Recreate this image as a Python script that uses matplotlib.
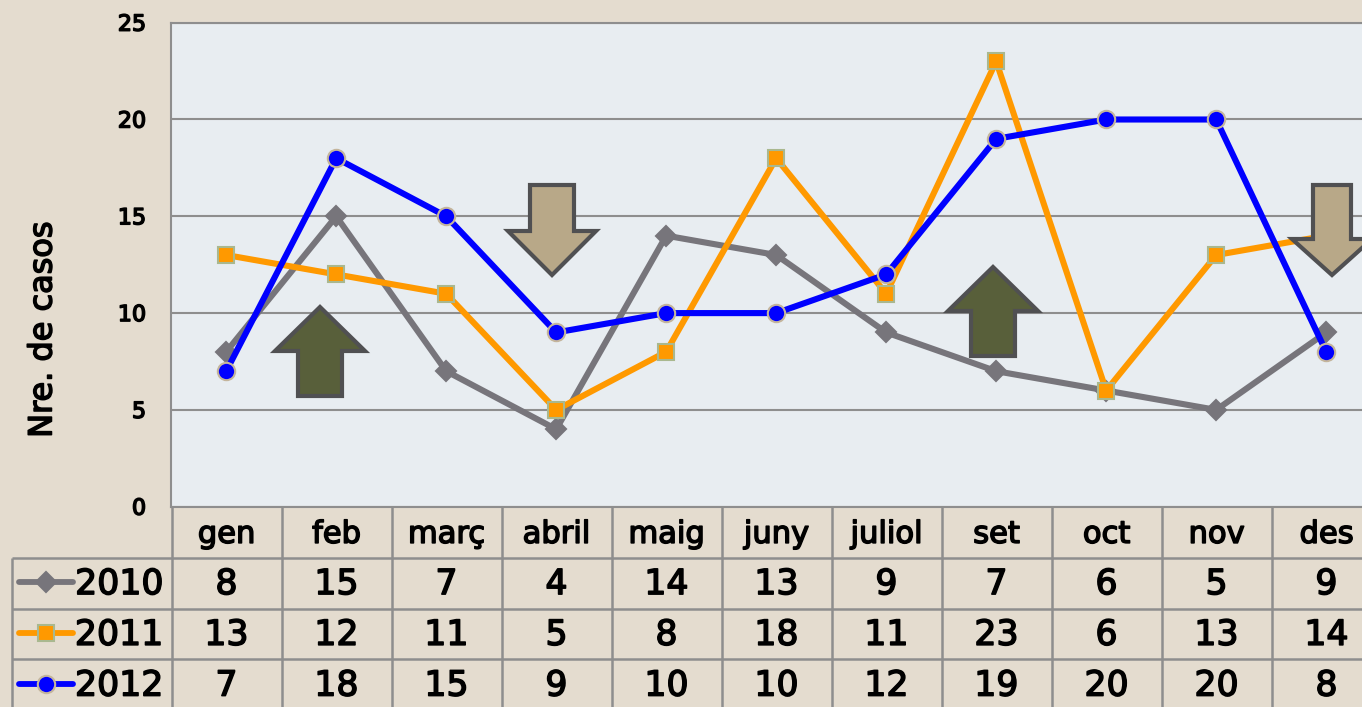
import matplotlib
matplotlib.use("Agg")
import matplotlib.pyplot as plt
from matplotlib.patches import Polygon
import matplotlib.patheffects as pe

months = ["gen", "feb", "març", "abril", "maig", "juny", "juliol", "set", "oct", "nov", "des"]
years = ["2010", "2011", "2012"]
v2010 = [8, 15, 7, 4, 14, 13, 9, 7, 6, 5, 9]
v2011 = [13, 12, 11, 5, 8, 18, 11, 23, 6, 13, 14]
v2012 = [7, 18, 15, 9, 10, 10, 12, 19, 20, 20, 8]
yticks = [0, 5, 10, 15, 20, 25]
ylabel = "Nre. de casos"

W, H = 1362, 707
BG = "#e4dccf"; PLOT = "#e8edf1"; GRID = "#8e8e8e"
plt.rcParams["font.family"] = ["DejaVu Sans"]
STROKE = [pe.withStroke(linewidth=1.1, foreground="black")]

series = [
    (v2010, "#77757b", "D", "#77757b", 10.5),
    (v2011, "#ff9900", "s", "#a9b88f", 11.5),
    (v2012, "#0000ff", "o", "#c4b59c", 12.5),
]

fig = plt.figure(figsize=(W / 100, H / 100), dpi=100, facecolor=BG)

def rect(x0, y0, x1, y1):
    return [x0 / W, 1 - y1 / H, (x1 - x0) / W, (y1 - y0) / H]

ax = fig.add_axes(rect(171.2, 22.7, 1381.2, 506.7), facecolor=PLOT)
ax.set_xlim(-0.5, 10.5)
ax.set_ylim(0, 25)
ax.set_yticks(yticks)
ax.set_xticks([])
ax.tick_params(axis="y", length=0, pad=18, labelsize=16)
for label in ax.get_yticklabels():
    label.set_path_effects(STROKE)
ax.grid(axis="y", color=GRID, lw=1.5)
ax.set_axisbelow(True)
for s in ax.spines.values():
    s.set_color(GRID); s.set_linewidth(1.5)
for vals, col, mk, edge, ms in series:
    ax.plot(range(len(months)), vals, color=col, lw=4.4, marker=mk, ms=ms,
            mfc=col, mec=edge, mew=1.5, solid_joinstyle="miter", clip_on=False, zorder=3)
fig.text(43 / W, 1 - 329.5 / H, ylabel, rotation=90, ha="center", va="center", fontsize=23,
         path_effects=STROKE)

# data table below the axes
tb = fig.add_axes(rect(171.5, 507, 1381.5, 710), facecolor="none")
tb.set_xlim(-0.5, 10.5)
tb.set_ylim(4, 0)
tb.axis("off")
n = len(months)
left = -0.5 - 160 / 110
for i, m in enumerate(months):
    tb.text(i, 0.54, m, ha="center", va="center", fontsize=22, clip_on=False, path_effects=STROKE)
for r, (yr, s) in enumerate(zip(years, series)):
    tb.text(-0.5 - 8 / 110, r + 1.52, yr, ha="right", va="center", fontsize=25, path_effects=STROKE)
    for i, v in enumerate(s[0]):
        tb.text(i, r + 1.52, str(v), ha="center", va="center", fontsize=25, path_effects=STROKE)
for k in range(n + 1):
    tb.plot([k - 0.5, k - 0.5], [0, 4], color=GRID, lw=1.8, clip_on=False, solid_capstyle="butt")
tb.plot([left, left], [1, 4], color=GRID, lw=1.8, clip_on=False, solid_capstyle="butt")
for r in range(1, 4):
    tb.plot([left, n - 0.5], [r, r], color=GRID, lw=1.8, clip_on=False, solid_capstyle="butt")

# overlay in pixel coordinates: legend keys and decorative arrows
ov = fig.add_axes([0, 0, 1, 1], facecolor="none")
ov.set_xlim(0, W)
ov.set_ylim(H, 0)
ov.axis("off")
for (vals, col, mk, edge, ms), yk in zip(series, (582, 633, 684)):
    ov.plot([19, 73], [yk, yk], color=col, lw=4.2, solid_capstyle="round")
    ov.plot([46], [yk], marker=mk, color=col, ms=ms, mec=edge, mew=1.5)

def arrow(cx, top, wing_y, bottom, half_wing, half_shaft, up, color):
    if up:
        pts = [(cx, top), (cx + half_wing, wing_y), (cx + half_shaft, wing_y), (cx + half_shaft, bottom),
               (cx - half_shaft, bottom), (cx - half_shaft, wing_y), (cx - half_wing, wing_y)]
    else:
        pts = [(cx, bottom), (cx + half_wing, wing_y), (cx + half_shaft, wing_y), (cx + half_shaft, top),
               (cx - half_shaft, top), (cx - half_shaft, wing_y), (cx - half_wing, wing_y)]
    ov.add_patch(Polygon(pts, closed=True, fc=color, ec="#505052", lw=3, joinstyle="miter"))

GREEN = "#585f3a"; TAN = "#b8a888"
arrow(320, 307, 351, 396, 45, 22, True, GREEN)
arrow(993, 267, 311, 356, 45, 22, True, GREEN)
arrow(552, 185, 231, 275, 44, 22, False, TAN)
arrow(1332, 185, 239, 275, 40, 19, False, TAN)

fig.savefig("out.png", dpi=100, facecolor=BG)
